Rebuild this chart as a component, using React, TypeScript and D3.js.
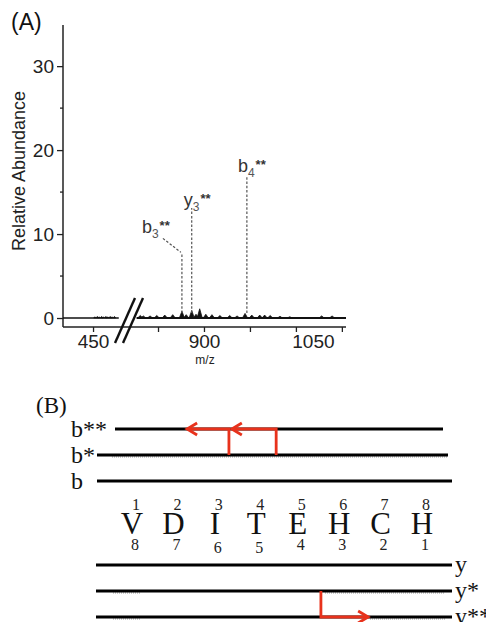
import React, { useEffect, useRef } from 'react';
import * as d3 from 'd3';

// ---- Panel A data (MS/MS spectrum) ----
const yTicksMajor = [0, 10, 20, 30];
const yTicksMinor = [5, 15, 25];
const leftTicks = [450];
const rightTicks = [825, 900, 975, 1050, 1125];
const rightTickLabels = [900, 1050];

// small noise in the low-mass segment
const leftMz = [453, 457, 460, 464, 467, 471, 474, 478, 481, 485];
const leftInt = [0.15, 0.2, 0.15, 0.2, 0.15, 0.2, 0.15, 0.2, 0.15, 0.2];

// peaks in the high-mass segment
const rightMz = [796, 801, 812, 823, 836, 849, 864, 871, 880, 887, 893, 903, 913, 926, 942, 954, 967, 978, 991, 999, 1008, 1024, 1040, 1092, 1109];
const rightInt = [0.3, 0.25, 0.25, 0.3, 0.35, 0.4, 0.8, 0.4, 0.9, 0.45, 1.1, 0.45, 0.4, 0.3, 0.3, 0.25, 0.55, 0.35, 0.35, 0.35, 0.3, 0.2, 0.15, 0.25, 0.25];

// annotated fragment ions
const ionNames = ['b', 'y', 'b'];
const ionNums = ['3', '3', '4'];
const ionMz = [864, 880, 970];
const ionTop = [7.7, 13.1, 16.8];

// ---- Panel B data (fragment map) ----
const residues = ['V', 'D', 'I', 'T', 'E', 'H', 'C', 'H'];
const bNumbers = [1, 2, 3, 4, 5, 6, 7, 8];
const yNumbers = [8, 7, 6, 5, 4, 3, 2, 1];
const bSeries = ['b**', 'b*', 'b'];
const ySeries = ['y', 'y*', 'y**'];
// arrows: cleavage position (in residue units) -> shifted position
const bArrowFrom = [3.48, 2.34];
const bArrowTo = [2.41, 1.33];
const yArrowFrom = [4.56];
const yArrowTo = [5.7];

const SANS = '"Liberation Sans", Arial, Helvetica, sans-serif';
const SERIF = '"Liberation Serif", "Times New Roman", Times, serif';
const RED = '#e8321c';

export default function App() {
  const svgRef = useRef<SVGSVGElement>(null);

  useEffect(() => {
    const svg = d3.select(svgRef.current);
    svg.selectAll('*').remove();

    // ================= Panel A =================
    const y = d3.scaleLinear().domain([-0.95, 34.9]).range([326, 25]);
    const xL = d3.scaleLinear().domain([401, 494]).range([63, 120]);
    const xR = d3.scaleLinear().domain([785, 1135]).range([133.5, 348]);
    const axisY = 327;
    const A = svg.append('g');

    A.append('text').attr('x', 11).attr('y', 30).attr('font-family', SANS)
      .attr('font-size', 23).attr('fill', '#111').text('(A)');

    // y axis
    const yAx = A.append('g').attr('transform', 'translate(63,0)')
      .call(d3.axisLeft(y).tickValues(yTicksMajor).tickSize(6).tickPadding(3));
    yAx.select('.domain').remove();
    yAx.selectAll('line').attr('stroke', '#222').attr('stroke-width', 1.3);
    yAx.selectAll('text').attr('font-family', SANS).attr('font-size', 19).attr('fill', '#222');
    A.selectAll('.ymin').data(yTicksMinor).join('line').attr('class', 'ymin')
      .attr('x1', 60).attr('x2', 63).attr('y1', d => y(d)).attr('y2', d => y(d))
      .attr('stroke', '#222').attr('stroke-width', 1.3);
    A.append('line').attr('x1', 63).attr('x2', 63).attr('y1', 25).attr('y2', axisY)
      .attr('stroke', '#222').attr('stroke-width', 1.5);

    A.append('text').attr('transform', `translate(25,${171}) rotate(-90)`)
      .attr('text-anchor', 'middle').attr('font-family', SANS).attr('font-size', 18)
      .attr('fill', '#222').text('Relative Abundance');

    // x axis
    A.append('line').attr('x1', 63).attr('x2', 346).attr('y1', axisY).attr('y2', axisY)
      .attr('stroke', '#222').attr('stroke-width', 1.5);
    const xlAx = A.append('g').attr('transform', `translate(0,${axisY})`)
      .call(d3.axisBottom(xL).tickValues(leftTicks).tickSize(5).tickPadding(3));
    const xrAx = A.append('g').attr('transform', `translate(0,${axisY})`)
      .call(d3.axisBottom(xR).tickValues(rightTicks).tickSize(5).tickPadding(3)
        .tickFormat(d => (rightTickLabels.includes(+d) ? String(d) : '')));
    [xlAx, xrAx].forEach(ax => {
      ax.select('.domain').remove();
      ax.selectAll('line').attr('stroke', '#222').attr('stroke-width', 1.3);
      ax.selectAll('text').attr('font-family', SANS).attr('font-size', 19).attr('fill', '#222');
    });
    // the 1050 label sits right of its tick in the original
    xrAx.selectAll('text').filter(d => +d === 1050).attr('dx', 17);

    A.append('text').attr('x', 205).attr('y', 364).attr('text-anchor', 'middle')
      .attr('font-family', SANS).attr('font-size', 12).attr('fill', '#222').text('m/z');

    // spectrum baselines
    A.append('line').attr('x1', 63).attr('x2', xL(492)).attr('y1', y(0)).attr('y2', y(0))
      .attr('stroke', '#111').attr('stroke-width', 1.3);
    A.append('line').attr('x1', xR(790)).attr('x2', 346).attr('y1', y(0)).attr('y2', y(0))
      .attr('stroke', '#111').attr('stroke-width', 2);

    const peak = (xs: d3.ScaleLinear<number, number>, w: number) => (d: [number, number]) =>
      `M${xs(d[0]) - w},${y(0)}L${xs(d[0])},${y(d[1])}L${xs(d[0]) + w},${y(0)}Z`;
    A.selectAll('.lp').data(leftMz.map((m, i) => [m, leftInt[i]] as [number, number]))
      .join('path').attr('class', 'lp').attr('d', peak(xL, 1.2))
      .attr('fill', '#111').attr('stroke', '#111').attr('stroke-width', 0.6);
    A.selectAll('.rp').data(rightMz.map((m, i) => [m, rightInt[i]] as [number, number]))
      .join('path').attr('class', 'rp').attr('d', peak(xR, 2.6))
      .attr('fill', '#111').attr('stroke', '#111').attr('stroke-width', 0.8);

    // axis break
    [0, 8].forEach(o => {
      A.append('line').attr('x1', 115 + o).attr('y1', 343).attr('x2', 135 + o).attr('y2', 298)
        .attr('stroke', '#111').attr('stroke-width', 2.4);
    });

    // annotated ions
    ionMz.forEach((mz, i) => {
      const px = xR(mz);
      const top = y(ionTop[i]);
      A.append('line').attr('x1', px).attr('x2', px).attr('y1', y(0.6)).attr('y2', top)
        .attr('stroke', '#555').attr('stroke-width', 1.2).attr('stroke-dasharray', '2.5,1.8');
      let tx = px - 9;
      let ty = top - 5;
      if (ionNames[i] === 'y') { tx = px - 8; ty = top - 2; }
      if (i === 0) {
        tx = px - 40; ty = top - 20;
        A.append('line').attr('x1', px - 19).attr('y1', top - 15).attr('x2', px - 1).attr('y2', top - 1)
          .attr('stroke', '#555').attr('stroke-width', 1.2).attr('stroke-dasharray', '2.5,1.8');
      }
      const t = A.append('text').attr('x', tx).attr('y', ty).attr('font-family', SANS).attr('fill', '#333');
      t.append('tspan').attr('font-size', 18).text(ionNames[i]);
      t.append('tspan').attr('font-size', 12).attr('dy', 5).attr('fill', '#555').text(ionNums[i]);
      t.append('tspan').attr('font-size', 13).attr('font-weight', 'bold').attr('dy', -8).attr('dx', 1).text('**');
    });

    // ================= Panel B =================
    const B = svg.append('g');
    const rx = d3.scaleLinear().domain([0, residues.length - 1]).range([132, 422]);
    const by = d3.scalePoint<string>().domain(bSeries).range([429, 481]);
    const yy = d3.scalePoint<string>().domain(ySeries).range([565, 617]);

    B.append('text').attr('x', 36).attr('y', 413).attr('font-family', SERIF)
      .attr('font-size', 23).attr('fill', '#111').text('(B)');

    const bExt: Record<string, [number, number]> = { 'b**': [115, 443], 'b*': [97, 448], b: [97, 452] };
    bSeries.forEach(s => {
      const yv = by(s)!;
      if (s === 'b*') {
        B.append('line').attr('x1', 112).attr('x2', 448).attr('y1', yv + 2).attr('y2', yv + 2)
          .attr('stroke', '#999').attr('stroke-width', 1).attr('stroke-dasharray', '1,1');
      }
      B.append('line').attr('x1', bExt[s][0]).attr('x2', bExt[s][1]).attr('y1', yv).attr('y2', yv)
        .attr('stroke', '#000').attr('stroke-width', 2.8);
      B.append('text').attr('x', 71).attr('y', yv + 8).attr('font-family', SERIF)
        .attr('font-size', 24).attr('fill', '#111').text(s);
    });

    ySeries.forEach(s => {
      const yv = yy(s)!;
      if (s !== 'y') {
        B.append('line').attr('x1', 113).attr('x2', 140).attr('y1', yv + 2).attr('y2', yv + 2)
          .attr('stroke', '#999').attr('stroke-width', 1).attr('stroke-dasharray', '1,1');
        B.append('line').attr('x1', s === 'y*' ? 325 : 370).attr('x2', 445).attr('y1', yv + 2).attr('y2', yv + 2)
          .attr('stroke', '#999').attr('stroke-width', 1).attr('stroke-dasharray', '1,1');
      }
      B.append('line').attr('x1', 96).attr('x2', 452).attr('y1', yv).attr('y2', yv)
        .attr('stroke', '#000').attr('stroke-width', 2.8);
      B.append('text').attr('x', 455).attr('y', yv + 7).attr('font-family', SERIF)
        .attr('font-size', 24).attr('fill', '#111').text(s);
    });

    // sequence
    B.selectAll('.res').data(residues).join('text').attr('class', 'res')
      .attr('x', (d, i) => rx(i)).attr('y', 534).attr('text-anchor', 'middle')
      .attr('font-family', SERIF).attr('font-size', 31).attr('fill', '#111').text(d => d);
    B.selectAll('.bn').data(bNumbers).join('text').attr('class', 'bn')
      .attr('x', (d, i) => rx(i) + 4).attr('y', 510).attr('text-anchor', 'middle')
      .attr('font-family', SERIF).attr('font-size', 16).attr('fill', '#222').text(d => d);
    B.selectAll('.yn').data(yNumbers).join('text').attr('class', 'yn')
      .attr('x', (d, i) => rx(i) + 3).attr('y', (d, i) => (i === 2 || i === 3 ? 553 : 550))
      .attr('text-anchor', 'middle')
      .attr('font-family', SERIF).attr('font-size', 16).attr('fill', '#222').text(d => d);

    // red arrows
    const redArrow = (x0: number, y0: number, y1: number, x1: number) => {
      B.append('path').attr('d', `M${x0},${y0}V${y1}H${x1}`)
        .attr('fill', 'none').attr('stroke', RED).attr('stroke-width', 2.8);
      const dir = x1 < x0 ? 1 : -1;
      B.append('path').attr('d', `M${x1 + dir * 10},${y1 - 6}L${x1},${y1}L${x1 + dir * 10},${y1 + 6}`)
        .attr('fill', 'none').attr('stroke', RED).attr('stroke-width', 2.8).attr('stroke-linejoin', 'miter');
    };
    bArrowFrom.forEach((f, i) => redArrow(rx(f), by('b*')!, by('b**')!, rx(bArrowTo[i])));
    yArrowFrom.forEach((f, i) => redArrow(rx(f), yy('y*')!, yy('y**')!, rx(yArrowTo[i])));
  }, []);

  return (
    <div style={{ width: 494, height: 630, position: 'relative', margin: -8, background: '#fff' }}>
      <svg ref={svgRef} width={494} height={630} style={{ display: 'block' }} />
    </div>
  );
}
